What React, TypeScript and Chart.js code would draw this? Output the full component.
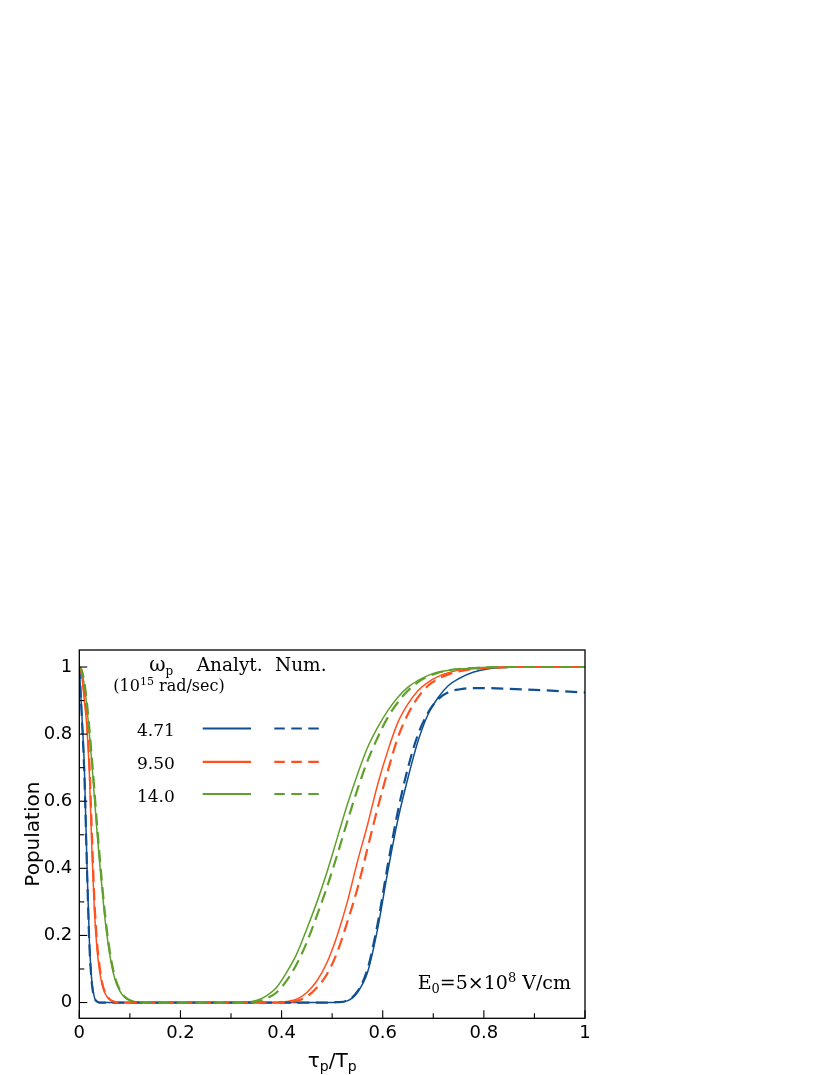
import { useEffect, useRef } from "react";
import { Chart, registerables } from "chart.js";

Chart.register(...registerables);

// ---- data ----
const tau = [
  0, 0.005, 0.01, 0.015, 0.02, 0.025, 0.03, 0.035, 0.04, 0.045,
  0.05, 0.06, 0.07, 0.08, 0.09, 0.1, 0.12, 0.15, 0.2, 0.25,
  0.3, 0.33, 0.35, 0.37, 0.39, 0.41, 0.43, 0.45, 0.47, 0.49,
  0.51, 0.53, 0.55, 0.57, 0.59, 0.61, 0.63, 0.65, 0.67, 0.69,
  0.71, 0.73, 0.75, 0.78, 0.81, 0.85, 0.9, 0.95, 1.0,
];

const analyt471 = [
  1.0, 0.86, 0.7, 0.42, 0.18, 0.06, 0.015, 0.003, 0, 0,
  0, 0, 0, 0, 0, 0, 0, 0, 0, 0,
  0, 0, 0, 0, 0, 0, 0, 0, 0, 0,
  0.001, 0.005, 0.03, 0.09, 0.22, 0.39, 0.545, 0.67, 0.78, 0.86,
  0.91, 0.945, 0.965, 0.985, 0.995, 0.999, 1, 1, 1,
];

const num471 = [
  1.0, 0.85, 0.68, 0.41, 0.17, 0.055, 0.014, 0.003, 0, 0,
  0, 0, 0, 0, 0, 0, 0, 0, 0, 0,
  0, 0, 0, 0, 0, 0, 0, 0, 0, 0,
  0.001, 0.006, 0.033, 0.1, 0.235, 0.41, 0.57, 0.7, 0.8, 0.865,
  0.905, 0.925, 0.933, 0.937, 0.937, 0.935, 0.932, 0.928, 0.924,
];

const analyt950 = [
  1.0, 0.97, 0.9, 0.82, 0.68, 0.45, 0.27, 0.16, 0.095, 0.055,
  0.03, 0.009, 0.002, 0, 0, 0, 0, 0, 0, 0,
  0, 0, 0, 0, 0, 0.003, 0.01, 0.03, 0.065, 0.12,
  0.2, 0.3, 0.42, 0.53, 0.65, 0.75, 0.835, 0.89, 0.93, 0.955,
  0.972, 0.983, 0.99, 0.995, 0.998, 1, 1, 1, 1,
];

const num950 = [
  1.0, 0.98, 0.92, 0.84, 0.71, 0.5, 0.3, 0.18, 0.11, 0.06,
  0.034, 0.01, 0.002, 0, 0, 0, 0, 0, 0, 0,
  0, 0, 0, 0, 0, 0.001, 0.005, 0.018, 0.045, 0.085,
  0.15, 0.24, 0.34, 0.46, 0.58, 0.69, 0.79, 0.86, 0.91, 0.945,
  0.965, 0.978, 0.987, 0.994, 0.997, 1, 1, 1, 1,
];

const analyt140 = [
  1.0, 0.985, 0.945, 0.88, 0.8, 0.71, 0.61, 0.51, 0.42, 0.34,
  0.26, 0.145, 0.072, 0.035, 0.015, 0.006, 0.001, 0, 0, 0,
  0, 0.001, 0.006, 0.02, 0.045, 0.09, 0.145, 0.22, 0.3, 0.39,
  0.49, 0.59, 0.68, 0.76, 0.82, 0.87, 0.91, 0.94, 0.96, 0.975,
  0.985, 0.99, 0.994, 0.997, 0.999, 1, 1, 1, 1,
];

const num140 = [
  1.0, 0.99, 0.955, 0.895, 0.815, 0.725, 0.63, 0.53, 0.44, 0.355,
  0.275, 0.155, 0.078, 0.038, 0.017, 0.007, 0.001, 0, 0, 0,
  0, 0, 0.003, 0.012, 0.03, 0.065, 0.115, 0.18, 0.26, 0.345,
  0.44, 0.54, 0.635, 0.72, 0.79, 0.85, 0.895, 0.93, 0.955, 0.972,
  0.983, 0.99, 0.994, 0.997, 0.999, 1, 1, 1, 1,
];

const omegaLabels = ["4.71", "9.50", "14.0"];
const minorTicks = [0, 0.1, 0.2, 0.3, 0.4, 0.5, 0.6, 0.7, 0.8, 0.9, 1.0];

// ---- styles ----
const BLUE = "#105091";
const ORANGE = "#ff501e";
const GREEN = "#5fa02d";
const colors = [BLUE, ORANGE, GREEN];
const SERIF = "'DejaVu Serif', serif";
const SANS = "'DejaVu Sans', sans-serif";

const DATA_DASH = [12, 6.5];
const LEGEND_DASH = [10.5, 6.5];

function series(ys: number[], color: string, dashed: boolean, order: number) {
  return {
    data: tau.map((x, i) => ({ x, y: ys[i] })),
    borderColor: color,
    backgroundColor: color,
    borderWidth: dashed ? 2.2 : 1.5,
    borderDash: dashed ? DATA_DASH : [],
    pointRadius: 0,
    fill: false,
    cubicInterpolationMode: "monotone" as const,
    order,
  };
}

type Part = { t: string; size: number; dy: number };

function drawRuns(
  ctx: CanvasRenderingContext2D,
  parts: Part[],
  x: number,
  y: number,
  align: "left" | "right" | "center",
  family: string
) {
  let total = 0;
  const widths: number[] = [];
  for (const p of parts) {
    ctx.font = `${p.size}px ${family}`;
    const w = ctx.measureText(p.t).width;
    widths.push(w);
    total += w;
  }
  let cx = align === "right" ? x - total : align === "center" ? x - total / 2 : x;
  parts.forEach((p, i) => {
    ctx.font = `${p.size}px ${family}`;
    ctx.fillText(p.t, cx, y + p.dy);
    cx += widths[i];
  });
}

const decorPlugin = {
  id: "decor",
  afterDatasetsDraw(chart: any) {
    const { ctx, chartArea: a, scales } = chart;
    const xs = scales.x;
    const ys = scales.y;
    ctx.save();
    // frame
    ctx.strokeStyle = "#000";
    ctx.lineWidth = 1.3;
    ctx.strokeRect(a.left, a.top, a.right - a.left, a.bottom - a.top);
    // inward ticks
    ctx.lineWidth = 1.1;
    minorTicks.forEach((v, i) => {
      const len = i % 2 === 0 ? 8 : 5;
      const px = xs.getPixelForValue(v);
      ctx.beginPath();
      ctx.moveTo(px, a.bottom);
      ctx.lineTo(px, a.bottom - len);
      ctx.stroke();
      const py = ys.getPixelForValue(v);
      ctx.beginPath();
      ctx.moveTo(a.left, py);
      ctx.lineTo(a.left + len, py);
      ctx.stroke();
    });

    // legend block
    ctx.fillStyle = "#000";
    ctx.textAlign = "left";
    ctx.textBaseline = "alphabetic";
    const L = a.left;
    const T = a.top;
    drawRuns(ctx, [{ t: "ω", size: 20, dy: 0 }, { t: "p", size: 12, dy: 4 }], L + 94, T + 20.5, "right", SERIF);
    drawRuns(ctx, [{ t: "Analyt.", size: 18.5, dy: 0 }], L + 117.4, T + 20.5, "left", SERIF);
    drawRuns(ctx, [{ t: "Num.", size: 18.5, dy: 0 }], L + 195.7, T + 20.5, "left", SERIF);
    drawRuns(
      ctx,
      [
        { t: "(10", size: 16, dy: 0 },
        { t: "15", size: 11, dy: -6 },
        { t: " rad/sec)", size: 16, dy: 0 },
      ],
      L + 34,
      T + 41.3,
      "left",
      SERIF
    );
    const rowBase = [86, 119.3, 151.5];
    omegaLabels.forEach((lab, i) => {
      const by = T + rowBase[i];
      drawRuns(ctx, [{ t: lab, size: 17, dy: 0 }], L + 95.5, by, "right", SERIF);
      const ly = by - 7.5;
      ctx.strokeStyle = colors[i];
      ctx.lineWidth = 2.2;
      ctx.setLineDash([]);
      ctx.beginPath();
      ctx.moveTo(L + 123.4, ly);
      ctx.lineTo(L + 171.7, ly);
      ctx.stroke();
      ctx.setLineDash(LEGEND_DASH);
      ctx.beginPath();
      ctx.moveTo(L + 195, ly);
      ctx.lineTo(L + 240.7, ly);
      ctx.stroke();
      ctx.setLineDash([]);
    });

    // field annotation
    ctx.fillStyle = "#000";
    drawRuns(
      ctx,
      [
        { t: "E", size: 19, dy: 0 },
        { t: "0", size: 13, dy: 4 },
        { t: "=5×10", size: 19, dy: 0 },
        { t: "8", size: 13, dy: -7 },
        { t: " V/cm", size: 19, dy: 0 },
      ],
      a.right - 14,
      a.bottom - 29,
      "right",
      SERIF
    );

    // x-axis title
    drawRuns(
      ctx,
      [
        { t: "τ", size: 20, dy: 0 },
        { t: "p", size: 14, dy: 4 },
        { t: "/T", size: 20, dy: 0 },
        { t: "p", size: 14, dy: 4 },
      ],
      (a.left + a.right) / 2,
      a.bottom + 48.3,
      "center",
      SANS
    );
    ctx.restore();
  },
};

const fmt = (v: number) => {
  const r = Math.round(v * 10) / 10;
  if (Math.abs(r) < 1e-9) return "0";
  if (r === 1) return "1";
  return r.toFixed(1);
};

export default function App() {
  const ref = useRef<HTMLCanvasElement>(null);
  useEffect(() => {
    if (!ref.current) return;
    Chart.defaults.font.family = SANS;
    const chart = new Chart(ref.current, {
      type: "line",
      data: {
        datasets: [
          series(analyt471, BLUE, false, 5),
          series(analyt950, ORANGE, false, 4),
          series(analyt140, GREEN, false, 3),
          series(num471, BLUE, true, 2),
          series(num950, ORANGE, true, 1),
          series(num140, GREEN, true, 0),
        ] as any,
      },
      options: {
        animation: false,
        responsive: true,
        maintainAspectRatio: false,
        events: [],
        layout: { padding: { top: 650, right: 245, left: 0, bottom: 0 } },
        plugins: {
          legend: { display: false },
          tooltip: { enabled: false },
        },
        scales: {
          x: {
            type: "linear",
            min: 0,
            max: 1,
            afterFit: (s: any) => {
              s.height = 56.7;
            },
            grid: { display: false, drawTicks: false },
            border: { display: false },
            ticks: {
              stepSize: 0.2,
              padding: 4,
              color: "#000",
              font: { family: SANS, size: 18 },
              maxRotation: 0,
              autoSkip: false,
              includeBounds: false,
              callback: (v: any) => fmt(Number(v)),
            },
          },
          y: {
            type: "linear",
            min: -0.047,
            max: 1.0507,
            afterFit: (s: any) => {
              s.width = 79.3;
            },
            grid: { display: false, drawTicks: false },
            border: { display: false },
            ticks: {
              stepSize: 0.2,
              padding: 7,
              color: "#000",
              font: { family: SANS, size: 18 },
              autoSkip: false,
              includeBounds: false,
              callback: (v: any) => fmt(Number(v)),
            },
            title: {
              display: true,
              text: "Population",
              color: "#000",
              font: { family: SANS, size: 20 },
              padding: { top: 22, bottom: 0 },
            },
          },
        },
      } as any,
      plugins: [decorPlugin],
    });
    return () => chart.destroy();
  }, []);

  return (
    <div
      style={{
        position: "fixed",
        left: 0,
        top: 0,
        width: 830,
        height: 1075,
        background: "#fff",
      }}
    >
      <canvas ref={ref} />
    </div>
  );
}
